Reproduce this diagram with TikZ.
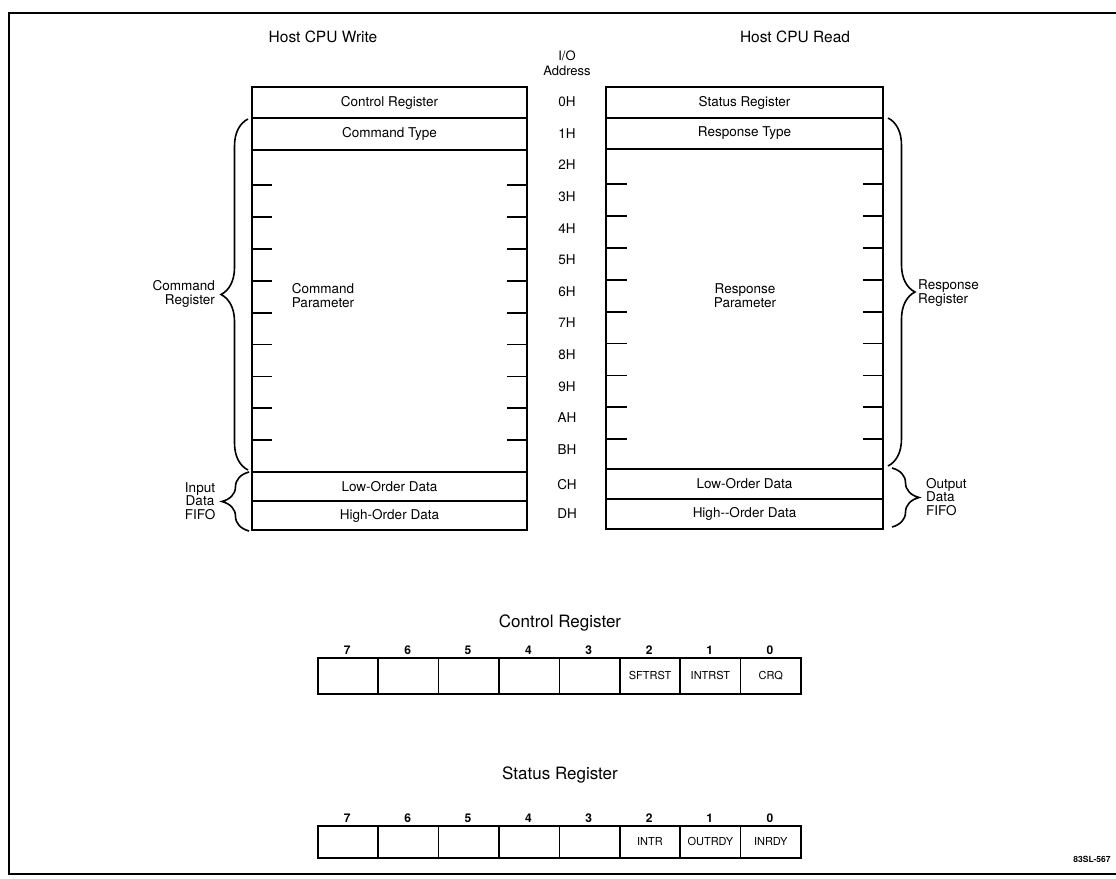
\documentclass[tikz,border=0pt]{standalone}
\usepackage{fontspec}
\setmainfont{TeX Gyre Heros}
\usetikzlibrary{decorations.pathreplacing}
\begin{document}
\begin{tikzpicture}[x=1pt,y=-1pt,
  heavy/.style={line width=2.2pt},
  divider/.style={line width=1.5pt},
  tick/.style={line width=1.8pt},
  head/.style={font=\fontsize{15.5}{17}\selectfont, inner sep=0pt},
  title/.style={font=\fontsize{17}{19}\selectfont, inner sep=0pt},
  lbl/.style={font=\fontsize{13.5}{14}\selectfont, inner sep=0pt},
  side/.style={font=\fontsize{13.5}{13.5}\selectfont, inner sep=0pt},
  bitnum/.style={font=\bfseries\fontsize{12}{12}\selectfont, inner sep=0pt},
  bitname/.style={font=\fontsize{11}{11}\selectfont, inner sep=0pt},
  cell/.style={draw, line width=1.6pt, minimum width=60.4pt, inner sep=0pt, anchor=north west},
  bracedraw/.style={line width=1.6pt, decorate},
]
\useasboundingbox (0,0) rectangle (1116,878);
% frame
\draw[line width=2pt] (1116,13) -- (9,13) -- (9,874) -- (1116,874);

% headings
\node[head] (hw) at (323,37) {Host CPU Write};
\node[head] (hr) at (795,37) {Host CPU Read};
\node[lbl, align=center, font=\fontsize{13}{15}\selectfont] (ioa) at (567,63) {I/O\\Address};

% left (write) box
\draw[heavy] (252,87) rectangle (527,530);
\draw[divider] (252,118) -- (527,118);
\draw[divider] (252,150) -- (527,150);
\draw[divider] (252,472) -- (527,472);
\draw[divider] (252,501) -- (527,501);
\foreach \k in {0,...,8} {
  \draw[tick] (252,{185+31.9*\k}) -- (272,{185+31.9*\k});
  \draw[tick] (507,{185+31.9*\k}) -- (527,{185+31.9*\k});
}
\node[lbl] (wctl) at (389.5,102.5) {Control Register};
\node[lbl] (wcty) at (389.5,134) {Command Type};
\node[lbl, align=center] (wcp) at (323,296) {Command\\Parameter};
\node[lbl] (wlo) at (389.5,486.5) {Low-Order Data};
\node[lbl] (whi) at (389.5,515.5) {High-Order Data};

% right (read) box
\draw[heavy] (606,87) rectangle (883,529);
\draw[divider] (606,118) -- (883,118);
\draw[divider] (606,149) -- (883,149);
\draw[divider] (606,469) -- (883,469);
\draw[divider] (606,499) -- (883,499);
\foreach \k in {0,...,8} {
  \draw[tick] (606,{184+31.9*\k}) -- (627,{184+31.9*\k});
  \draw[tick] (863,{184+31.9*\k}) -- (883,{184+31.9*\k});
}
\node[lbl] (rst) at (744.5,102.5) {Status Register};
\node[lbl] (rty) at (744.5,133.5) {Response Type};
\node[lbl, align=center] (rrp) at (745,296) {Response\\Parameter};
\node[lbl] (rlo) at (744.5,484) {Low-Order Data};
\node[lbl] (rhi) at (744.5,514) {High-{}-Order Data};

% addresses
\foreach \t/\y in {0H/102,1H/134,2H/165,3H/196.6,4H/228.2,5H/259.8,6H/291.4,7H/323,8H/354.6,9H/386.2,AH/417.8,BH/449.4,CH/485,DH/514} {
  \node[lbl] (a\t) at (567,\y) {\t};
}

% braces
\coordinate (cbt) at (248,119);
\coordinate (cbb) at (248,470);
\draw[bracedraw, decoration={brace, amplitude=27pt}] (cbb) -- (cbt);
\node[side, align=right, anchor=east] (cmdreg) at (215,294) {Command\\Register};

\coordinate (ibt) at (249,472);
\coordinate (ibb) at (249,531);
\draw[bracedraw, decoration={brace, amplitude=27pt}] (ibb) -- (ibt);
\node[side, align=center] (infifo) at (200,501) {Input\\Data\\FIFO};

\coordinate (rbt) at (888,118);
\coordinate (rbb) at (888,466);
\draw[bracedraw, decoration={brace, amplitude=27pt}] (rbt) -- (rbb);
\node[side, align=left, anchor=west] (respreg) at (918,293) {Response\\Register};

\coordinate (obt) at (892,468);
\coordinate (obb) at (892,527);
\draw[bracedraw, decoration={brace, amplitude=27pt}] (obt) -- (obb);
\node[side, align=left, anchor=west] (outfifo) at (926,497) {Output\\Data\\FIFO};

% Control register bits
\node[title] (ctitle) at (560,623) {Control Register};
\foreach \i/\n in {0/,1/,2/,3/,4/,5/SFTRST,6/INTRST,7/CRQ} {
  \node[cell, minimum height=36pt] (cc\i) at ({317+60.4*\i},657) {};
  \node[bitname] (ccn\i) at (cc\i.center) {\n};
}
\foreach \i/\b in {0/7,1/6,2/5,3/4,4/3,5/2,6/1,7/0} {
  \node[bitnum] (ccb\i) at ({347.2+60.4*\i},650) {\b};
}

% Status register bits
\node[title] (stitle) at (560,775) {Status Register};
\foreach \i/\n in {0/,1/,2/,3/,4/,5/INTR,6/OUTRDY,7/INRDY} {
  \node[cell, minimum height=32pt] (sc\i) at ({317+60.4*\i},825) {};
  \node[bitname] (scn\i) at (sc\i.center) {\n};
}
\foreach \i/\b in {0/7,1/6,2/5,3/4,4/3,5/2,6/1,7/0} {
  \node[bitnum] (scb\i) at ({347.2+60.4*\i},818) {\b};
}

\node[font=\bfseries\fontsize{8.5}{9}\selectfont, inner sep=0pt] (fig) at (1092,859) {83SL-567};
\end{tikzpicture}
\end{document}
